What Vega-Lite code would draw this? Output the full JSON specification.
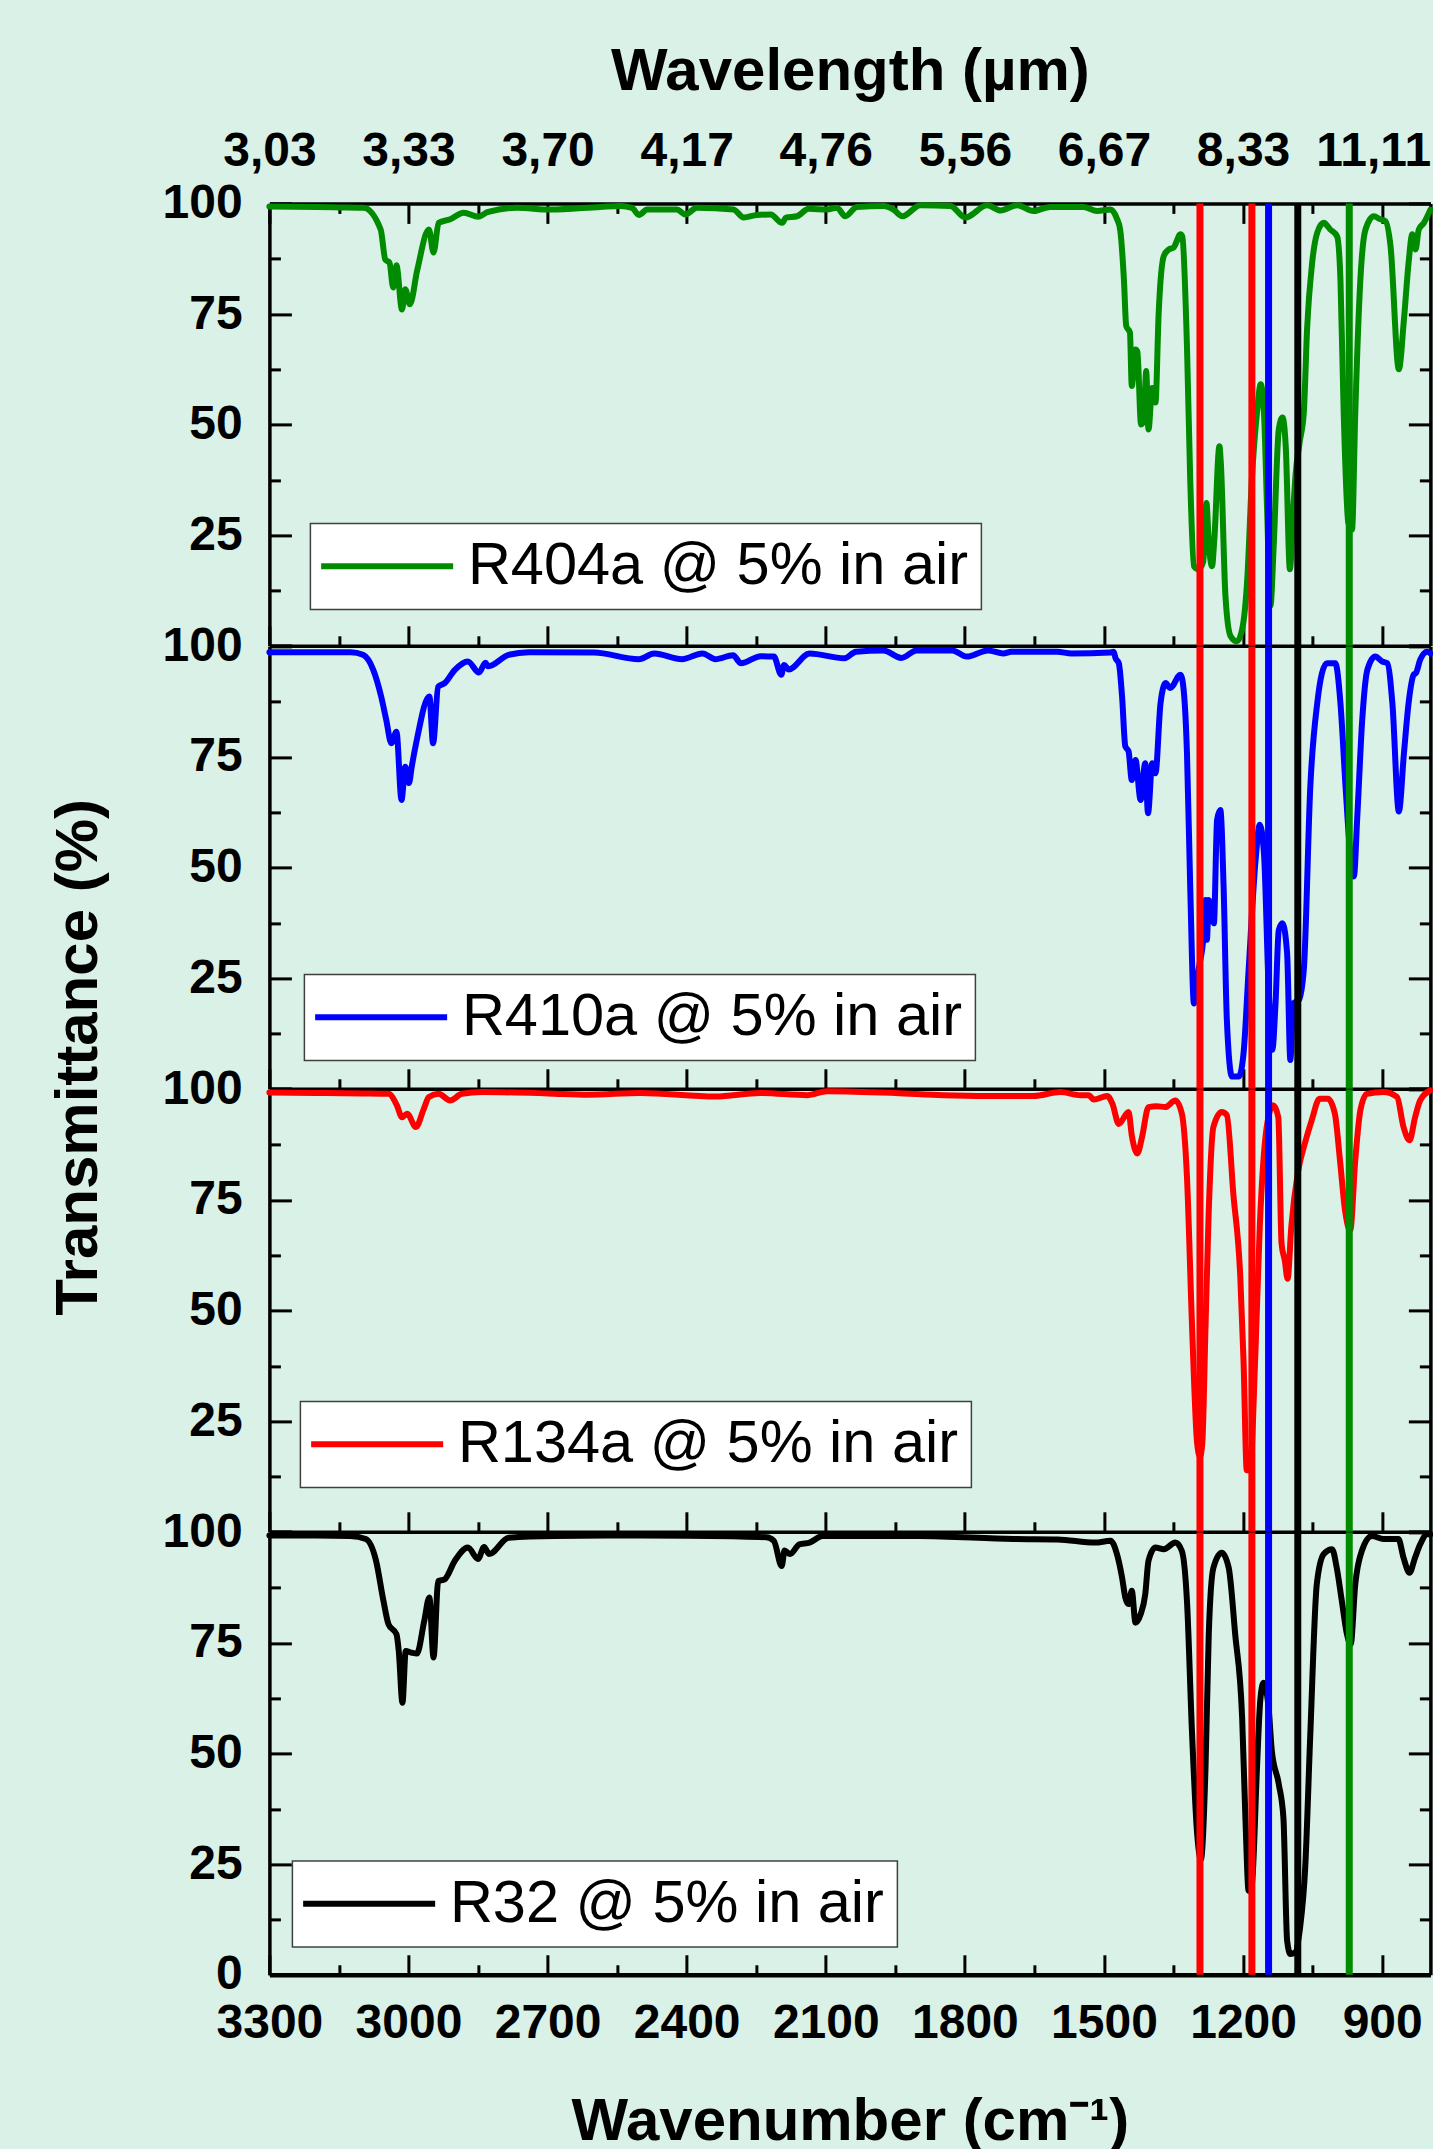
{
  "$schema": "https://vega.github.io/schema/vega-lite/v6.json",
  "background": "#daf1e7",
  "padding": {"left": 48.4, "top": 41.4, "right": 0, "bottom": 0},
  "spacing": 0,
  "bounds": "flush",
  "resolve": {"scale": {"color": "independent"}, "legend": {"color": "independent"}},
  "config": {
    "view": {"stroke": null},
    "axis": {"grid": false, "domainColor": "black", "domainWidth": 3.5, "tickColor": "black", "tickWidth": 3, "labelFont": "Liberation Sans", "labelFontSize": 48, "labelFontWeight": "bold", "labelColor": "black", "titleFont": "Liberation Sans", "titleFontSize": 60, "titleFontWeight": "bold", "titleColor": "black", "labelFlush": false, "labelOverlap": false, "zindex": 1},
    "legend": {"strokeWidth": 1.5}
  },
  "datasets": {
    "lines": [{"wn": 1293, "g": "R134a"}, {"wn": 1181, "g": "R134a"}, {"wn": 1145, "g": "R410a"}, {"wn": 1082, "g": "R32"}, {"wn": 971, "g": "R404a"}],
    "r404a": [{"wn":3300,"t":99.3},{"wn":3200,"t":99.2},{"wn":3150,"t":99.1},{"wn":3097,"t":99},{"wn":3060,"t":94.1},{"wn":3050,"t":87.3},{"wn":3041,"t":86.6},{"wn":3033,"t":81},{"wn":3026,"t":86},{"wn":3014,"t":76},{"wn":3007,"t":80.6},{"wn":2997,"t":77.2},{"wn":2981,"t":85},{"wn":2956,"t":94.1},{"wn":2946,"t":88.9},{"wn":2935,"t":95.6},{"wn":2910,"t":96.4},{"wn":2881,"t":97.9},{"wn":2849,"t":97},{"wn":2830,"t":98},{"wn":2766,"t":99},{"wn":2694,"t":98.6},{"wn":2586,"t":99.2},{"wn":2543,"t":99.4},{"wn":2518,"t":99},{"wn":2503,"t":97.4},{"wn":2485,"t":98.6},{"wn":2421,"t":98.6},{"wn":2403,"t":97.5},{"wn":2378,"t":99},{"wn":2299,"t":98.6},{"wn":2277,"t":96.8},{"wn":2248,"t":97.4},{"wn":2219,"t":97.5},{"wn":2194,"t":95.6},{"wn":2186,"t":96.8},{"wn":2162,"t":97.1},{"wn":2137,"t":98.8},{"wn":2097,"t":98.6},{"wn":2076,"t":99},{"wn":2058,"t":97.1},{"wn":2033,"t":99.2},{"wn":1975,"t":99.4},{"wn":1954,"t":98.6},{"wn":1935,"t":97.1},{"wn":1896,"t":99.6},{"wn":1831,"t":99.4},{"wn":1799,"t":96.8},{"wn":1752,"t":99.6},{"wn":1723,"t":98.4},{"wn":1687,"t":99.6},{"wn":1652,"t":98.3},{"wn":1616,"t":99.2},{"wn":1544,"t":99.2},{"wn":1515,"t":98.3},{"wn":1486,"t":98.6},{"wn":1472,"t":96.5},{"wn":1465,"t":94},{"wn":1457,"t":82.8},{"wn":1452,"t":72.3},{"wn":1444,"t":70.8},{"wn":1440,"t":58.7},{"wn":1432,"t":67},{"wn":1428,"t":66.5},{"wn":1420,"t":50},{"wn":1414,"t":51},{"wn":1409,"t":62.1},{"wn":1404,"t":48.9},{"wn":1396,"t":58.3},{"wn":1389,"t":55},{"wn":1382,"t":75.3},{"wn":1371,"t":88.1},{"wn":1360,"t":89.6},{"wn":1350,"t":90},{"wn":1335,"t":93},{"wn":1331,"t":92.5},{"wn":1321,"t":67.7},{"wn":1314,"t":37.6},{"wn":1306,"t":18},{"wn":1296,"t":17.3},{"wn":1286,"t":19},{"wn":1281,"t":30},{"wn":1279,"t":32.3},{"wn":1274,"t":23.3},{"wn":1267,"t":18},{"wn":1262,"t":24},{"wn":1251,"t":45.1},{"wn":1248,"t":41.4},{"wn":1238,"t":11.2},{"wn":1227,"t":2.2},{"wn":1213,"t":1},{"wn":1202,"t":3.7},{"wn":1191,"t":15},{"wn":1181,"t":37.6},{"wn":1170,"t":52.7},{"wn":1162,"t":59.1},{"wn":1155,"t":52.7},{"wn":1148,"t":30.1},{"wn":1141,"t":9},{"wn":1134,"t":22.5},{"wn":1123,"t":48.9},{"wn":1115,"t":51.6},{"wn":1108,"t":45.1},{"wn":1099,"t":17.3},{"wn":1092,"t":30.1},{"wn":1087,"t":38.4},{"wn":1078,"t":46},{"wn":1069,"t":52.7},{"wn":1062,"t":71.5},{"wn":1051,"t":86.6},{"wn":1040,"t":93.4},{"wn":1026,"t":95.6},{"wn":1012,"t":94.1},{"wn":997,"t":92.5},{"wn":990,"t":82.8},{"wn":983,"t":52.7},{"wn":973,"t":27.8},{"wn":965,"t":26.3},{"wn":958,"t":52.7},{"wn":947,"t":82.8},{"wn":936,"t":94.1},{"wn":918,"t":97.1},{"wn":904,"t":96.4},{"wn":893,"t":96},{"wn":882,"t":90.4},{"wn":864,"t":62.5},{"wn":853,"t":73.8},{"wn":843,"t":86.6},{"wn":835,"t":93},{"wn":828,"t":89.6},{"wn":821,"t":94.1},{"wn":810,"t":95.6},{"wn":796,"t":98.6}],
    "r410a": [{"wn":3300,"t":98.7},{"wn":3200,"t":98.7},{"wn":3125,"t":98.7},{"wn":3098,"t":98.1},{"wn":3076,"t":94.7},{"wn":3059,"t":88.7},{"wn":3048,"t":83.4},{"wn":3037,"t":78.1},{"wn":3026,"t":80.7},{"wn":3015,"t":65.3},{"wn":3007,"t":72.8},{"wn":2999,"t":69.1},{"wn":2993,"t":72.8},{"wn":2982,"t":78.9},{"wn":2955,"t":88.7},{"wn":2947,"t":78.1},{"wn":2936,"t":90.9},{"wn":2922,"t":91.7},{"wn":2900,"t":94.7},{"wn":2872,"t":96.6},{"wn":2848,"t":94.1},{"wn":2834,"t":96.3},{"wn":2828,"t":95.5},{"wn":2784,"t":98.1},{"wn":2740,"t":98.7},{"wn":2600,"t":98.6},{"wn":2503,"t":97.1},{"wn":2470,"t":98.4},{"wn":2410,"t":97.1},{"wn":2366,"t":98.4},{"wn":2338,"t":97.1},{"wn":2300,"t":98},{"wn":2283,"t":96.2},{"wn":2240,"t":97.8},{"wn":2212,"t":97.7},{"wn":2196,"t":93.6},{"wn":2190,"t":95.8},{"wn":2180,"t":94.8},{"wn":2135,"t":98.4},{"wn":2060,"t":97.3},{"wn":2035,"t":98.8},{"wn":1976,"t":99.1},{"wn":1937,"t":97.4},{"wn":1904,"t":99.1},{"wn":1827,"t":99.1},{"wn":1796,"t":97.7},{"wn":1750,"t":99.1},{"wn":1717,"t":98.4},{"wn":1700,"t":98.8},{"wn":1601,"t":98.8},{"wn":1570,"t":98.4},{"wn":1486,"t":98.6},{"wn":1479,"t":98.8},{"wn":1475,"t":97.3},{"wn":1468,"t":96.2},{"wn":1461,"t":88.7},{"wn":1454,"t":77.4},{"wn":1447,"t":76.3},{"wn":1440,"t":69.8},{"wn":1432,"t":74.3},{"wn":1421,"t":65.3},{"wn":1411,"t":73.6},{"wn":1405,"t":62.3},{"wn":1396,"t":73.6},{"wn":1389,"t":71.3},{"wn":1378,"t":87.2},{"wn":1367,"t":91.7},{"wn":1357,"t":90.6},{"wn":1335,"t":93.6},{"wn":1331,"t":92.5},{"wn":1321,"t":75.9},{"wn":1314,"t":45.7},{"wn":1306,"t":19.3},{"wn":1296,"t":26.9},{"wn":1285,"t":35},{"wn":1281,"t":42.7},{"wn":1278,"t":33.7},{"wn":1274,"t":42.7},{"wn":1263,"t":37.4},{"wn":1256,"t":60.8},{"wn":1249,"t":63},{"wn":1242,"t":45.7},{"wn":1235,"t":15.6},{"wn":1224,"t":2.8},{"wn":1209,"t":2.8},{"wn":1199,"t":8},{"wn":1188,"t":26.9},{"wn":1173,"t":51.8},{"wn":1164,"t":59.7},{"wn":1155,"t":53.3},{"wn":1145,"t":23.1},{"wn":1137,"t":8.8},{"wn":1130,"t":19.3},{"wn":1123,"t":35.9},{"wn":1115,"t":37.4},{"wn":1105,"t":30.6},{"wn":1098,"t":6.5},{"wn":1092,"t":19.3},{"wn":1080,"t":20},{"wn":1069,"t":26.9},{"wn":1055,"t":68.3},{"wn":1040,"t":87.2},{"wn":1030,"t":93.9},{"wn":1019,"t":96.2},{"wn":1001,"t":96.2},{"wn":990,"t":87.2},{"wn":979,"t":68.3},{"wn":969,"t":53.3},{"wn":961,"t":48},{"wn":954,"t":60.8},{"wn":943,"t":83.4},{"wn":932,"t":94.7},{"wn":915,"t":97.7},{"wn":900,"t":96.6},{"wn":889,"t":96.2},{"wn":878,"t":87.2},{"wn":864,"t":62.7},{"wn":853,"t":75.9},{"wn":843,"t":87.2},{"wn":832,"t":93.6},{"wn":827,"t":94},{"wn":818,"t":97},{"wn":803,"t":98.8},{"wn":796,"t":98.4}],
    "r134a": [{"wn":3300,"t":99.3},{"wn":3200,"t":99.2},{"wn":3100,"t":99.1},{"wn":3043,"t":99},{"wn":3025,"t":96.4},{"wn":3014,"t":93.7},{"wn":3003,"t":94.5},{"wn":2984,"t":91.5},{"wn":2967,"t":95.6},{"wn":2956,"t":98.3},{"wn":2935,"t":99},{"wn":2910,"t":97.5},{"wn":2885,"t":99},{"wn":2841,"t":99.4},{"wn":2700,"t":99.1},{"wn":2612,"t":98.8},{"wn":2500,"t":99.2},{"wn":2338,"t":98.4},{"wn":2241,"t":99.2},{"wn":2140,"t":98.7},{"wn":2097,"t":99.6},{"wn":1950,"t":99.2},{"wn":1846,"t":98.7},{"wn":1702,"t":98.5},{"wn":1652,"t":98.5},{"wn":1594,"t":99.4},{"wn":1551,"t":98.7},{"wn":1533,"t":98.7},{"wn":1522,"t":97.7},{"wn":1493,"t":98.5},{"wn":1482,"t":96.8},{"wn":1468,"t":92.2},{"wn":1447,"t":94.9},{"wn":1440,"t":89.6},{"wn":1428,"t":85.5},{"wn":1418,"t":89.2},{"wn":1404,"t":96},{"wn":1386,"t":96.2},{"wn":1368,"t":96},{"wn":1346,"t":97.5},{"wn":1332,"t":94.5},{"wn":1321,"t":80.2},{"wn":1310,"t":46.3},{"wn":1299,"t":19.9},{"wn":1293,"t":17},{"wn":1288,"t":19.9},{"wn":1281,"t":46.3},{"wn":1274,"t":72.6},{"wn":1264,"t":91.5},{"wn":1246,"t":94.9},{"wn":1235,"t":94.2},{"wn":1221,"t":76.4},{"wn":1206,"t":57.6},{"wn":1199,"t":38.7},{"wn":1192,"t":13.9},{"wn":1185,"t":13.9},{"wn":1174,"t":38.7},{"wn":1164,"t":68.9},{"wn":1149,"t":91.5},{"wn":1135,"t":96.4},{"wn":1124,"t":93.7},{"wn":1117,"t":65.1},{"wn":1110,"t":61.3},{"wn":1104,"t":57.2},{"wn":1096,"t":68.9},{"wn":1081,"t":81.7},{"wn":1067,"t":87.7},{"wn":1052,"t":93},{"wn":1035,"t":97.9},{"wn":1017,"t":97.9},{"wn":1002,"t":94.5},{"wn":991,"t":84},{"wn":980,"t":72.6},{"wn":969,"t":68.1},{"wn":958,"t":84},{"wn":947,"t":95.3},{"wn":933,"t":99},{"wn":897,"t":99.4},{"wn":868,"t":98.3},{"wn":854,"t":91.5},{"wn":841,"t":88.5},{"wn":829,"t":93.7},{"wn":818,"t":97.5},{"wn":796,"t":99.8}],
    "r32": [{"wn":3300,"t":99.3},{"wn":3200,"t":99.3},{"wn":3126,"t":99.2},{"wn":3092,"t":98.5},{"wn":3070,"t":93.6},{"wn":3054,"t":84.5},{"wn":3043,"t":79.2},{"wn":3026,"t":77},{"wn":3021,"t":73.2},{"wn":3013,"t":61.5},{"wn":3006,"t":73.2},{"wn":2993,"t":72.8},{"wn":2982,"t":72.6},{"wn":2966,"t":80},{"wn":2955,"t":85.3},{"wn":2946,"t":71.7},{"wn":2936,"t":89},{"wn":2922,"t":89.4},{"wn":2900,"t":93.6},{"wn":2872,"t":96.6},{"wn":2850,"t":94},{"wn":2837,"t":96.7},{"wn":2826,"t":95.1},{"wn":2784,"t":98.8},{"wn":2685,"t":99.2},{"wn":2500,"t":99.3},{"wn":2300,"t":99.1},{"wn":2228,"t":98.9},{"wn":2212,"t":98.1},{"wn":2195,"t":92.4},{"wn":2189,"t":95.9},{"wn":2177,"t":95.1},{"wn":2157,"t":97.3},{"wn":2135,"t":97.7},{"wn":2107,"t":99.2},{"wn":1900,"t":99.2},{"wn":1695,"t":98.5},{"wn":1600,"t":98.4},{"wn":1519,"t":97.7},{"wn":1486,"t":98.1},{"wn":1472,"t":95.1},{"wn":1461,"t":89.8},{"wn":1454,"t":85.3},{"wn":1447,"t":83.8},{"wn":1440,"t":86.8},{"wn":1432,"t":79.6},{"wn":1421,"t":81.5},{"wn":1411,"t":86},{"wn":1404,"t":93.6},{"wn":1389,"t":96.6},{"wn":1371,"t":96.2},{"wn":1346,"t":97.7},{"wn":1332,"t":95.8},{"wn":1321,"t":84.5},{"wn":1310,"t":54.4},{"wn":1299,"t":31.8},{"wn":1291,"t":26.1},{"wn":1281,"t":46.8},{"wn":1274,"t":77},{"wn":1264,"t":92},{"wn":1246,"t":95.4},{"wn":1231,"t":92},{"wn":1217,"t":77},{"wn":1202,"t":58.1},{"wn":1195,"t":35.5},{"wn":1188,"t":19},{"wn":1181,"t":20.5},{"wn":1170,"t":46.8},{"wn":1163,"t":61.9},{"wn":1156,"t":66},{"wn":1145,"t":60.4},{"wn":1138,"t":50.6},{"wn":1123,"t":43.1},{"wn":1113,"t":35.5},{"wn":1105,"t":7.7},{"wn":1098,"t":4.7},{"wn":1088,"t":5},{"wn":1077,"t":10.7},{"wn":1066,"t":24.2},{"wn":1055,"t":54.4},{"wn":1041,"t":88.3},{"wn":1026,"t":95.1},{"wn":1008,"t":96.2},{"wn":998,"t":92},{"wn":987,"t":84.5},{"wn":976,"t":77},{"wn":968,"t":74.7},{"wn":958,"t":88.3},{"wn":944,"t":95.8},{"wn":922,"t":99.2},{"wn":897,"t":98.5},{"wn":865,"t":98.5},{"wn":854,"t":94.3},{"wn":841,"t":90.9},{"wn":829,"t":94.3},{"wn":818,"t":97.3},{"wn":803,"t":99.6},{"wn":796,"t":99.6}]
  },
  "vconcat": [
    {
      "width": 1161, "height": 442.4,
      "resolve": {"axis": {"x": "independent", "y": "independent"}, "scale": {"color": "independent"}},
      "layer": [
        {"data": {"name": "r404a"},
         "mark": {"type": "line", "strokeWidth": 6, "strokeJoin": "round", "strokeCap": "round", "interpolate": "monotone"},
         "encoding": {
           "x": {"field": "wn", "type": "quantitative", "scale": {"domain": [3300, 796], "nice": false, "zero": false}, "axis": {"orient": "bottom", "values": [3300,3000,2700,2400,2100,1800,1500,1200,900], "tickSize": -20, "labels": false, "title": null}},
           "y": {"field": "t", "type": "quantitative", "scale": {"domain": [0, 100], "nice": false, "zero": false}, "axis": {"orient": "left", "values": [0,25,50,75,100], "tickSize": -22, "labelPadding": 49.3, "format": "d", "labelExpr": "datum.value > 0 ? datum.label : ''", "title": null}},
           "color": {"datum": "R404a @ 5% in air", "type": "nominal", "scale": {"domain": ["R404a @ 5% in air"], "range": ["#008b00"]}, "legend": {"orient": "none", "legendX": 41, "legendY": 320, "title": null, "fillColor": "white", "strokeColor": "#404040", "padding": 13, "symbolType": "M-1.6,0H5", "symbolSize": 1600, "symbolStrokeWidth": 6, "labelFont": "Liberation Sans", "labelFontSize": 59.5, "labelColor": "black", "labelLimit": 0, "labelOffset": 85, "cornerRadius": 0}}
         }},
        {"data": {"name": "lines"},
         "mark": {"type": "rule", "strokeWidth": 7},
         "encoding": {
           "x": {"field": "wn", "type": "quantitative", "scale": {"domain": [3300, 796], "nice": false, "zero": false}, "axis": {"orient": "top", "values": [3300,3000,2700,2400,2100,1800,1500,1200,900], "tickSize": -20, "labelPadding": 47.6, "labelOffset": {"condition": {"test": "datum.value === 900", "value": -9}, "value": 0}, "labelExpr": "replace(format(10000/datum.value, '.2f'), '.', ',')", "title": "Wavelength (µm)", "titleY": -114, "titleBaseline": "alphabetic"}},
           "y": {"datum": 0, "type": "quantitative", "scale": {"domain": [0, 100], "nice": false, "zero": false}, "axis": {"orient": "right", "values": [0,25,50,75,100], "tickSize": -22, "labels": false, "title": null}},
           "y2": {"datum": 100},
           "color": {"field": "g", "type": "nominal", "scale": {"domain": ["R404a", "R410a", "R134a", "R32"], "range": ["#008b00", "#0000ff", "#ff0000", "#000000"]}, "legend": null}
         }},
        {"data": {"name": "lines"},
         "mark": {"type": "rule", "opacity": 0},
         "encoding": {
           "x": {"field": "wn", "type": "quantitative", "scale": {"domain": [3300, 796], "nice": false, "zero": false}, "axis": {"orient": "bottom", "values": [3150,2850,2550,2250,1950,1650,1350,1050], "tickSize": -10, "labels": false, "domain": false, "title": null}},
           "y": {"datum": 0, "type": "quantitative", "scale": {"domain": [0, 100], "nice": false, "zero": false}, "axis": {"orient": "left", "values": [12.5,37.5,62.5,87.5], "tickSize": -11, "labels": false, "domain": false, "title": null}},
           "y2": {"datum": 100}
         }},
        {"data": {"name": "lines"},
         "mark": {"type": "rule", "opacity": 0},
         "encoding": {
           "x": {"field": "wn", "type": "quantitative", "scale": {"domain": [3300, 796], "nice": false, "zero": false}, "axis": {"orient": "top", "values": [3150,2850,2550,2250,1950,1650,1350,1050], "tickSize": -10, "labels": false, "domain": false, "title": null}},
           "y": {"datum": 0, "type": "quantitative", "scale": {"domain": [0, 100], "nice": false, "zero": false}, "axis": {"orient": "right", "values": [12.5,37.5,62.5,87.5], "tickSize": -11, "labels": false, "domain": false, "title": null}},
           "y2": {"datum": 100}
         }}
      ]
    },
    {
      "width": 1161, "height": 442.4,
      "resolve": {"axis": {"x": "independent", "y": "independent"}, "scale": {"color": "independent"}},
      "layer": [
        {"data": {"name": "r410a"},
         "mark": {"type": "line", "strokeWidth": 6, "strokeJoin": "round", "strokeCap": "round", "interpolate": "monotone"},
         "encoding": {
           "x": {"field": "wn", "type": "quantitative", "scale": {"domain": [3300, 796], "nice": false, "zero": false}, "axis": {"orient": "bottom", "values": [3300,3000,2700,2400,2100,1800,1500,1200,900], "tickSize": -20, "labels": false, "title": null}},
           "y": {"field": "t", "type": "quantitative", "scale": {"domain": [0, 100], "nice": false, "zero": false}, "axis": {"orient": "left", "values": [0,25,50,75,100], "tickSize": -22, "labelPadding": 49.3, "format": "d", "labelExpr": "datum.value > 0 ? datum.label : ''", "title": "Transmittance (%)", "titleX": -173, "titleY": 410.5, "titleBaseline": "alphabetic"}},
           "color": {"datum": "R410a @ 5% in air", "type": "nominal", "scale": {"domain": ["R410a @ 5% in air"], "range": ["#0000ff"]}, "legend": {"orient": "none", "legendX": 35, "legendY": 328, "title": null, "fillColor": "white", "strokeColor": "#404040", "padding": 13, "symbolType": "M-1.6,0H5", "symbolSize": 1600, "symbolStrokeWidth": 6, "labelFont": "Liberation Sans", "labelFontSize": 59.5, "labelColor": "black", "labelLimit": 0, "labelOffset": 85, "cornerRadius": 0}}
         }},
        {"data": {"name": "lines"},
         "mark": {"type": "rule", "strokeWidth": 7},
         "encoding": {
           "x": {"field": "wn", "type": "quantitative", "scale": {"domain": [3300, 796], "nice": false, "zero": false}, "axis": null},
           "y": {"datum": 0, "type": "quantitative", "scale": {"domain": [0, 100], "nice": false, "zero": false}, "axis": {"orient": "right", "values": [0,25,50,75,100], "tickSize": -22, "labels": false, "title": null}},
           "y2": {"datum": 100},
           "color": {"field": "g", "type": "nominal", "scale": {"domain": ["R404a", "R410a", "R134a", "R32"], "range": ["#008b00", "#0000ff", "#ff0000", "#000000"]}, "legend": null}
         }},
        {"data": {"name": "lines"},
         "mark": {"type": "rule", "opacity": 0},
         "encoding": {
           "x": {"field": "wn", "type": "quantitative", "scale": {"domain": [3300, 796], "nice": false, "zero": false}, "axis": {"orient": "bottom", "values": [3150,2850,2550,2250,1950,1650,1350,1050], "tickSize": -10, "labels": false, "domain": false, "title": null}},
           "y": {"datum": 0, "type": "quantitative", "scale": {"domain": [0, 100], "nice": false, "zero": false}, "axis": {"orient": "left", "values": [12.5,37.5,62.5,87.5], "tickSize": -11, "labels": false, "domain": false, "title": null}},
           "y2": {"datum": 100}
         }},
        {"data": {"name": "lines"},
         "mark": {"type": "rule", "opacity": 0},
         "encoding": {
           "x": {"field": "wn", "type": "quantitative", "scale": {"domain": [3300, 796], "nice": false, "zero": false}, "axis": null},
           "y": {"datum": 0, "type": "quantitative", "scale": {"domain": [0, 100], "nice": false, "zero": false}, "axis": {"orient": "right", "values": [12.5,37.5,62.5,87.5], "tickSize": -11, "labels": false, "domain": false, "title": null}},
           "y2": {"datum": 100}
         }}
      ]
    },
    {
      "width": 1161, "height": 442.4,
      "resolve": {"axis": {"x": "independent", "y": "independent"}, "scale": {"color": "independent"}},
      "layer": [
        {"data": {"name": "r134a"},
         "mark": {"type": "line", "strokeWidth": 6, "strokeJoin": "round", "strokeCap": "round", "interpolate": "monotone"},
         "encoding": {
           "x": {"field": "wn", "type": "quantitative", "scale": {"domain": [3300, 796], "nice": false, "zero": false}, "axis": {"orient": "bottom", "values": [3300,3000,2700,2400,2100,1800,1500,1200,900], "tickSize": -20, "labels": false, "title": null}},
           "y": {"field": "t", "type": "quantitative", "scale": {"domain": [0, 100], "nice": false, "zero": false}, "axis": {"orient": "left", "values": [0,25,50,75,100], "tickSize": -22, "labelPadding": 49.3, "format": "d", "labelExpr": "datum.value > 0 ? datum.label : ''", "title": null}},
           "color": {"datum": "R134a @ 5% in air", "type": "nominal", "scale": {"domain": ["R134a @ 5% in air"], "range": ["#ff0000"]}, "legend": {"orient": "none", "legendX": 31, "legendY": 312, "title": null, "fillColor": "white", "strokeColor": "#404040", "padding": 13, "symbolType": "M-1.6,0H5", "symbolSize": 1600, "symbolStrokeWidth": 6, "labelFont": "Liberation Sans", "labelFontSize": 59.5, "labelColor": "black", "labelLimit": 0, "labelOffset": 85, "cornerRadius": 0}}
         }},
        {"data": {"name": "lines"},
         "mark": {"type": "rule", "strokeWidth": 7},
         "encoding": {
           "x": {"field": "wn", "type": "quantitative", "scale": {"domain": [3300, 796], "nice": false, "zero": false}, "axis": null},
           "y": {"datum": 0, "type": "quantitative", "scale": {"domain": [0, 100], "nice": false, "zero": false}, "axis": {"orient": "right", "values": [0,25,50,75,100], "tickSize": -22, "labels": false, "title": null}},
           "y2": {"datum": 100},
           "color": {"field": "g", "type": "nominal", "scale": {"domain": ["R404a", "R410a", "R134a", "R32"], "range": ["#008b00", "#0000ff", "#ff0000", "#000000"]}, "legend": null}
         }},
        {"data": {"name": "lines"},
         "mark": {"type": "rule", "opacity": 0},
         "encoding": {
           "x": {"field": "wn", "type": "quantitative", "scale": {"domain": [3300, 796], "nice": false, "zero": false}, "axis": {"orient": "bottom", "values": [3150,2850,2550,2250,1950,1650,1350,1050], "tickSize": -10, "labels": false, "domain": false, "title": null}},
           "y": {"datum": 0, "type": "quantitative", "scale": {"domain": [0, 100], "nice": false, "zero": false}, "axis": {"orient": "left", "values": [12.5,37.5,62.5,87.5], "tickSize": -11, "labels": false, "domain": false, "title": null}},
           "y2": {"datum": 100}
         }},
        {"data": {"name": "lines"},
         "mark": {"type": "rule", "opacity": 0},
         "encoding": {
           "x": {"field": "wn", "type": "quantitative", "scale": {"domain": [3300, 796], "nice": false, "zero": false}, "axis": null},
           "y": {"datum": 0, "type": "quantitative", "scale": {"domain": [0, 100], "nice": false, "zero": false}, "axis": {"orient": "right", "values": [12.5,37.5,62.5,87.5], "tickSize": -11, "labels": false, "domain": false, "title": null}},
           "y2": {"datum": 100}
         }}
      ]
    },
    {
      "width": 1161, "height": 442.4,
      "resolve": {"axis": {"x": "independent", "y": "independent"}, "scale": {"color": "independent"}},
      "layer": [
        {"data": {"name": "r32"},
         "mark": {"type": "line", "strokeWidth": 6, "strokeJoin": "round", "strokeCap": "round", "interpolate": "monotone"},
         "encoding": {
           "x": {"field": "wn", "type": "quantitative", "scale": {"domain": [3300, 796], "nice": false, "zero": false}, "axis": {"orient": "bottom", "values": [3300,3000,2700,2400,2100,1800,1500,1200,900], "tickSize": -20, "labelPadding": 45.2, "format": "d", "domainWidth": 4.5, "title": "Wavenumber (cm⁻¹)", "titleY": 164.5, "titleBaseline": "alphabetic"}},
           "y": {"field": "t", "type": "quantitative", "scale": {"domain": [0, 100], "nice": false, "zero": false}, "axis": {"orient": "left", "values": [0,25,50,75,100], "tickSize": -22, "labelPadding": 49.3, "format": "d", "title": null}},
           "color": {"datum": "R32 @ 5% in air", "type": "nominal", "scale": {"domain": ["R32 @ 5% in air"], "range": ["#000000"]}, "legend": {"orient": "none", "legendX": 23, "legendY": 328.5, "title": null, "fillColor": "white", "strokeColor": "#404040", "padding": 13, "symbolType": "M-1.6,0H5", "symbolSize": 1600, "symbolStrokeWidth": 6, "labelFont": "Liberation Sans", "labelFontSize": 59.5, "labelColor": "black", "labelLimit": 0, "labelOffset": 85, "cornerRadius": 0}}
         }},
        {"data": {"name": "lines"},
         "mark": {"type": "rule", "strokeWidth": 7},
         "encoding": {
           "x": {"field": "wn", "type": "quantitative", "scale": {"domain": [3300, 796], "nice": false, "zero": false}, "axis": null},
           "y": {"datum": 0, "type": "quantitative", "scale": {"domain": [0, 100], "nice": false, "zero": false}, "axis": {"orient": "right", "values": [0,25,50,75,100], "tickSize": -22, "labels": false, "title": null}},
           "y2": {"datum": 100},
           "color": {"field": "g", "type": "nominal", "scale": {"domain": ["R404a", "R410a", "R134a", "R32"], "range": ["#008b00", "#0000ff", "#ff0000", "#000000"]}, "legend": null}
         }},
        {"data": {"name": "lines"},
         "mark": {"type": "rule", "opacity": 0},
         "encoding": {
           "x": {"field": "wn", "type": "quantitative", "scale": {"domain": [3300, 796], "nice": false, "zero": false}, "axis": {"orient": "bottom", "values": [3150,2850,2550,2250,1950,1650,1350,1050], "tickSize": -10, "labels": false, "domain": false, "title": null}},
           "y": {"datum": 0, "type": "quantitative", "scale": {"domain": [0, 100], "nice": false, "zero": false}, "axis": {"orient": "left", "values": [12.5,37.5,62.5,87.5], "tickSize": -11, "labels": false, "domain": false, "title": null}},
           "y2": {"datum": 100}
         }},
        {"data": {"name": "lines"},
         "mark": {"type": "rule", "opacity": 0},
         "encoding": {
           "x": {"field": "wn", "type": "quantitative", "scale": {"domain": [3300, 796], "nice": false, "zero": false}, "axis": null},
           "y": {"datum": 0, "type": "quantitative", "scale": {"domain": [0, 100], "nice": false, "zero": false}, "axis": {"orient": "right", "values": [12.5,37.5,62.5,87.5], "tickSize": -11, "labels": false, "domain": false, "title": null}},
           "y2": {"datum": 100}
         }}
      ]
    }
  ]
}
